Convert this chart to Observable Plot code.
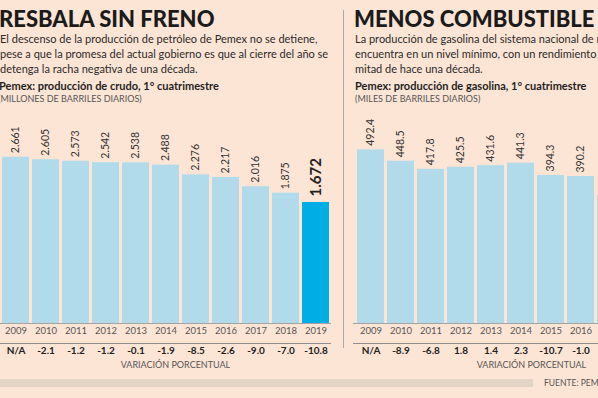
<!DOCTYPE html>
<html><head><meta charset="utf-8">
<script src="https://cdn.jsdelivr.net/npm/d3@7"></script>
<script src="https://cdn.jsdelivr.net/npm/@observablehq/plot@0.6"></script>
<style>
html,body{margin:0;padding:0;}
body{width:598px;height:398px;overflow:hidden;background:#fde5d6;font-family:Lato,sans-serif;position:relative;}
.abs{position:absolute;white-space:nowrap;}
.title{font-weight:900;font-size:22px;line-height:22px;color:#1b1b1b;}
.sub{font-size:11px;line-height:15px;color:#2a2a2a;}
.head{font-weight:700;font-size:11px;line-height:13px;color:#1f1f1f;}
.unit{font-size:9px;line-height:11px;color:#555;}
svg{position:absolute;top:0;}
</style></head><body>
<div class="abs title" style="left:-1px;top:7.5px">RESBALA SIN FRENO</div>
<div class="abs sub" style="left:0px;top:31px">El descenso de la producción de petróleo de Pemex no se detiene,<br>pese a que la promesa del actual gobierno es que al cierre del año se<br>detenga la racha negativa de una década.</div>
<div class="abs head" style="left:-1px;top:79px">Pemex: producción de crudo, 1° cuatrimestre</div>
<div class="abs unit" style="left:-2px;top:93px">(MILLONES DE BARRILES DIARIOS)</div>

<div class="abs title" style="left:354px;top:7.5px">MENOS COMBUSTIBLE</div>
<div class="abs sub" style="left:355px;top:31px">La producción de gasolina del sistema nacional de refinación se<br>encuentra en un nivel mínimo, con un rendimiento de la<br>mitad de hace una década.</div>
<div class="abs head" style="left:355px;top:79px">Pemex: producción de gasolina, 1° cuatrimestre</div>
<div class="abs unit" style="left:355px;top:93px">(MILES DE BARRILES DIARIOS)</div>

<div class="abs" style="left:343px;top:10px;width:1px;height:338px;background:#aaa"></div>
<div class="abs" style="left:0;top:379px;width:533px;height:8px;background:#e4d4c5"></div>
<div class="abs unit" style="left:544px;top:378px;font-size:8.5px">FUENTE: PEMEX</div>

<div id="left"></div>
<div id="right"></div>
<script>
// Petróleo crudo (millones de barriles diarios)
const years = [2009, 2010, 2011, 2012, 2013, 2014, 2015, 2016, 2017, 2018, 2019];
const crudo = [2.661, 2.605, 2.573, 2.542, 2.538, 2.488, 2.276, 2.217, 2.016, 1.875, 1.672];
const crudoVar = ["N/A", "-2.1", "-1.2", "-1.2", "-0.1", "-1.9", "-8.5", "-2.6", "-9.0", "-7.0", "-10.8"];

// Gasolina (miles de barriles diarios) — 2017 only partly visible
const gasYears = [2009, 2010, 2011, 2012, 2013, 2014, 2015, 2016, 2017];
const gasolina = [492.4, 448.5, 417.8, 425.5, 431.6, 441.3, 394.3, 390.2, 318];
const gasVar = ["N/A", "-8.9", "-6.8", "1.8", "1.4", "2.3", "-10.7", "-1.0", null];

const highlightYear = 2019;

const BAR = "#b1dbea", HL = "#00aee6";
const crudoData = years.map((year, i) => ({year, value: crudo[i], pct: crudoVar[i]}));
const gasData = gasYears.map((year, i) => ({year, value: gasolina[i], pct: gasVar[i]}));

function panel(data, {width, xRange, base, top, fmt, varCenterDx}) {
  return Plot.plot({
    width, height: 398,
    marginTop: 0, marginBottom: 75, marginLeft: 0, marginRight: 0,
    style: {background: "transparent", fontFamily: "Lato, sans-serif"},
    x: {type: "band", domain: data.map(d => d.year), range: xRange, paddingInner: 0.1, paddingOuter: 0.05, axis: null},
    y: {domain: [base, top], axis: null},
    marks: [
      Plot.barY(data, {x: "year", y1: base, y2: "value", fill: d => d.year === highlightYear ? HL : BAR}),
      Plot.ruleY([base], {stroke: "#a3a3a3", strokeWidth: 1}),
      Plot.ruleY([base], {stroke: "#8c8c8c", strokeWidth: 1, dy: 20}),
      Plot.text(data.filter(d => d.year !== highlightYear), {x: "year", y: "value", text: d => fmt(d.value), rotate: -90, textAnchor: "start", dy: -4, fontSize: 10.5, fill: "#333"}),
      Plot.text(data.filter(d => d.year === highlightYear), {x: "year", y: "value", text: d => fmt(d.value), rotate: -90, textAnchor: "start", dy: -6, fontSize: 15, fontWeight: 700, fill: "#222"}),
      Plot.text(data, {x: "year", text: d => String(d.year), frameAnchor: "bottom", dy: 10, fontSize: 9.5, fill: "#555"}),
      Plot.text(data.filter(d => d.pct != null), {x: "year", text: "pct", frameAnchor: "bottom", dy: 30, fontSize: 10, fontWeight: 700, fill: "#222"}),
      Plot.text(["VARIACIÓN PORCENTUAL"], {text: d => d, frameAnchor: "bottom", dy: 44, dx: varCenterDx, fontSize: 9, fill: "#555"})
    ]
  });
}

const left = panel(crudoData, {width: 331, xRange: [-0.5, 330.6], base: -0.97, top: 6.082, fmt: d3.format(".3f"), varCenterDx: 9.5});
left.style.left = "0px";
document.getElementById("left").append(left);

const right = panel(gasData, {width: 245, xRange: [2.2, 272.2], base: -172.4, top: 1063.7, fmt: d3.format(".1f"), varCenterDx: 55.5});
right.style.left = "353px";
document.getElementById("right").append(right);
</script>
</body></html>
